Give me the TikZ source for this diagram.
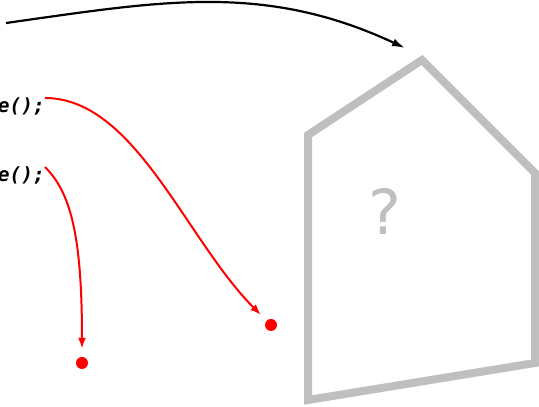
\documentclass[tikz,border=0pt]{standalone}
\usepackage{fontspec}
\setmainfont{DejaVu Sans}
\setmonofont{DejaVu Sans Mono}
\usepackage{xcolor}
\definecolor{houseGray}{HTML}{BFBFBF}
\definecolor{callRed}{HTML}{FF0000}
\usepackage{tikz}
\usetikzlibrary{arrows.meta,positioning}

\begin{document}
\begin{tikzpicture}[
  x=1pt,y=1pt,
  code/.style={font=\fontsize{19.5}{22}\selectfont\ttfamily\bfseries\itshape,inner sep=0pt,anchor=base east},
  dot/.style={circle,fill=callRed,inner sep=0pt,minimum size=12pt},
  flow/.style={-{Latex[length=11pt,width=8pt]},line width=2pt,draw=callRed,shorten >=8pt},
  jump/.style={-{Latex[length=13pt,width=8pt]},line width=2.2pt},
  wall/.style={draw=houseGray,line width=8pt,line join=miter}
]
\useasboundingbox (0,0) rectangle (539,407);
\node[code] (call1) at (45,294) {e();};
\node[code] (call2) at (45,225) {e();};
\node[dot] (dot1) at (271,82) {};
\node[dot] (dot2) at (82,44) {};
\draw[wall] (422,347)--(535,234)--(535,44)--(308,7)--(308,272)--cycle;
\node[anchor=base,text=houseGray,font=\fontsize{62}{70}\selectfont,inner sep=0pt] (unknown) at (385,172) {?};
\coordinate (origin) at (6,384);
\coordinate (roof) at (405,359);
\draw[jump] (origin) to[out=8,in=155] (roof);
\draw[flow] (call1.north east) .. controls +(90,0) and +(-85,85) .. (dot1);
\draw[flow] (call2.north east) .. controls +(25,-25) and +(0,130) .. (dot2);
\end{tikzpicture}
\end{document}
